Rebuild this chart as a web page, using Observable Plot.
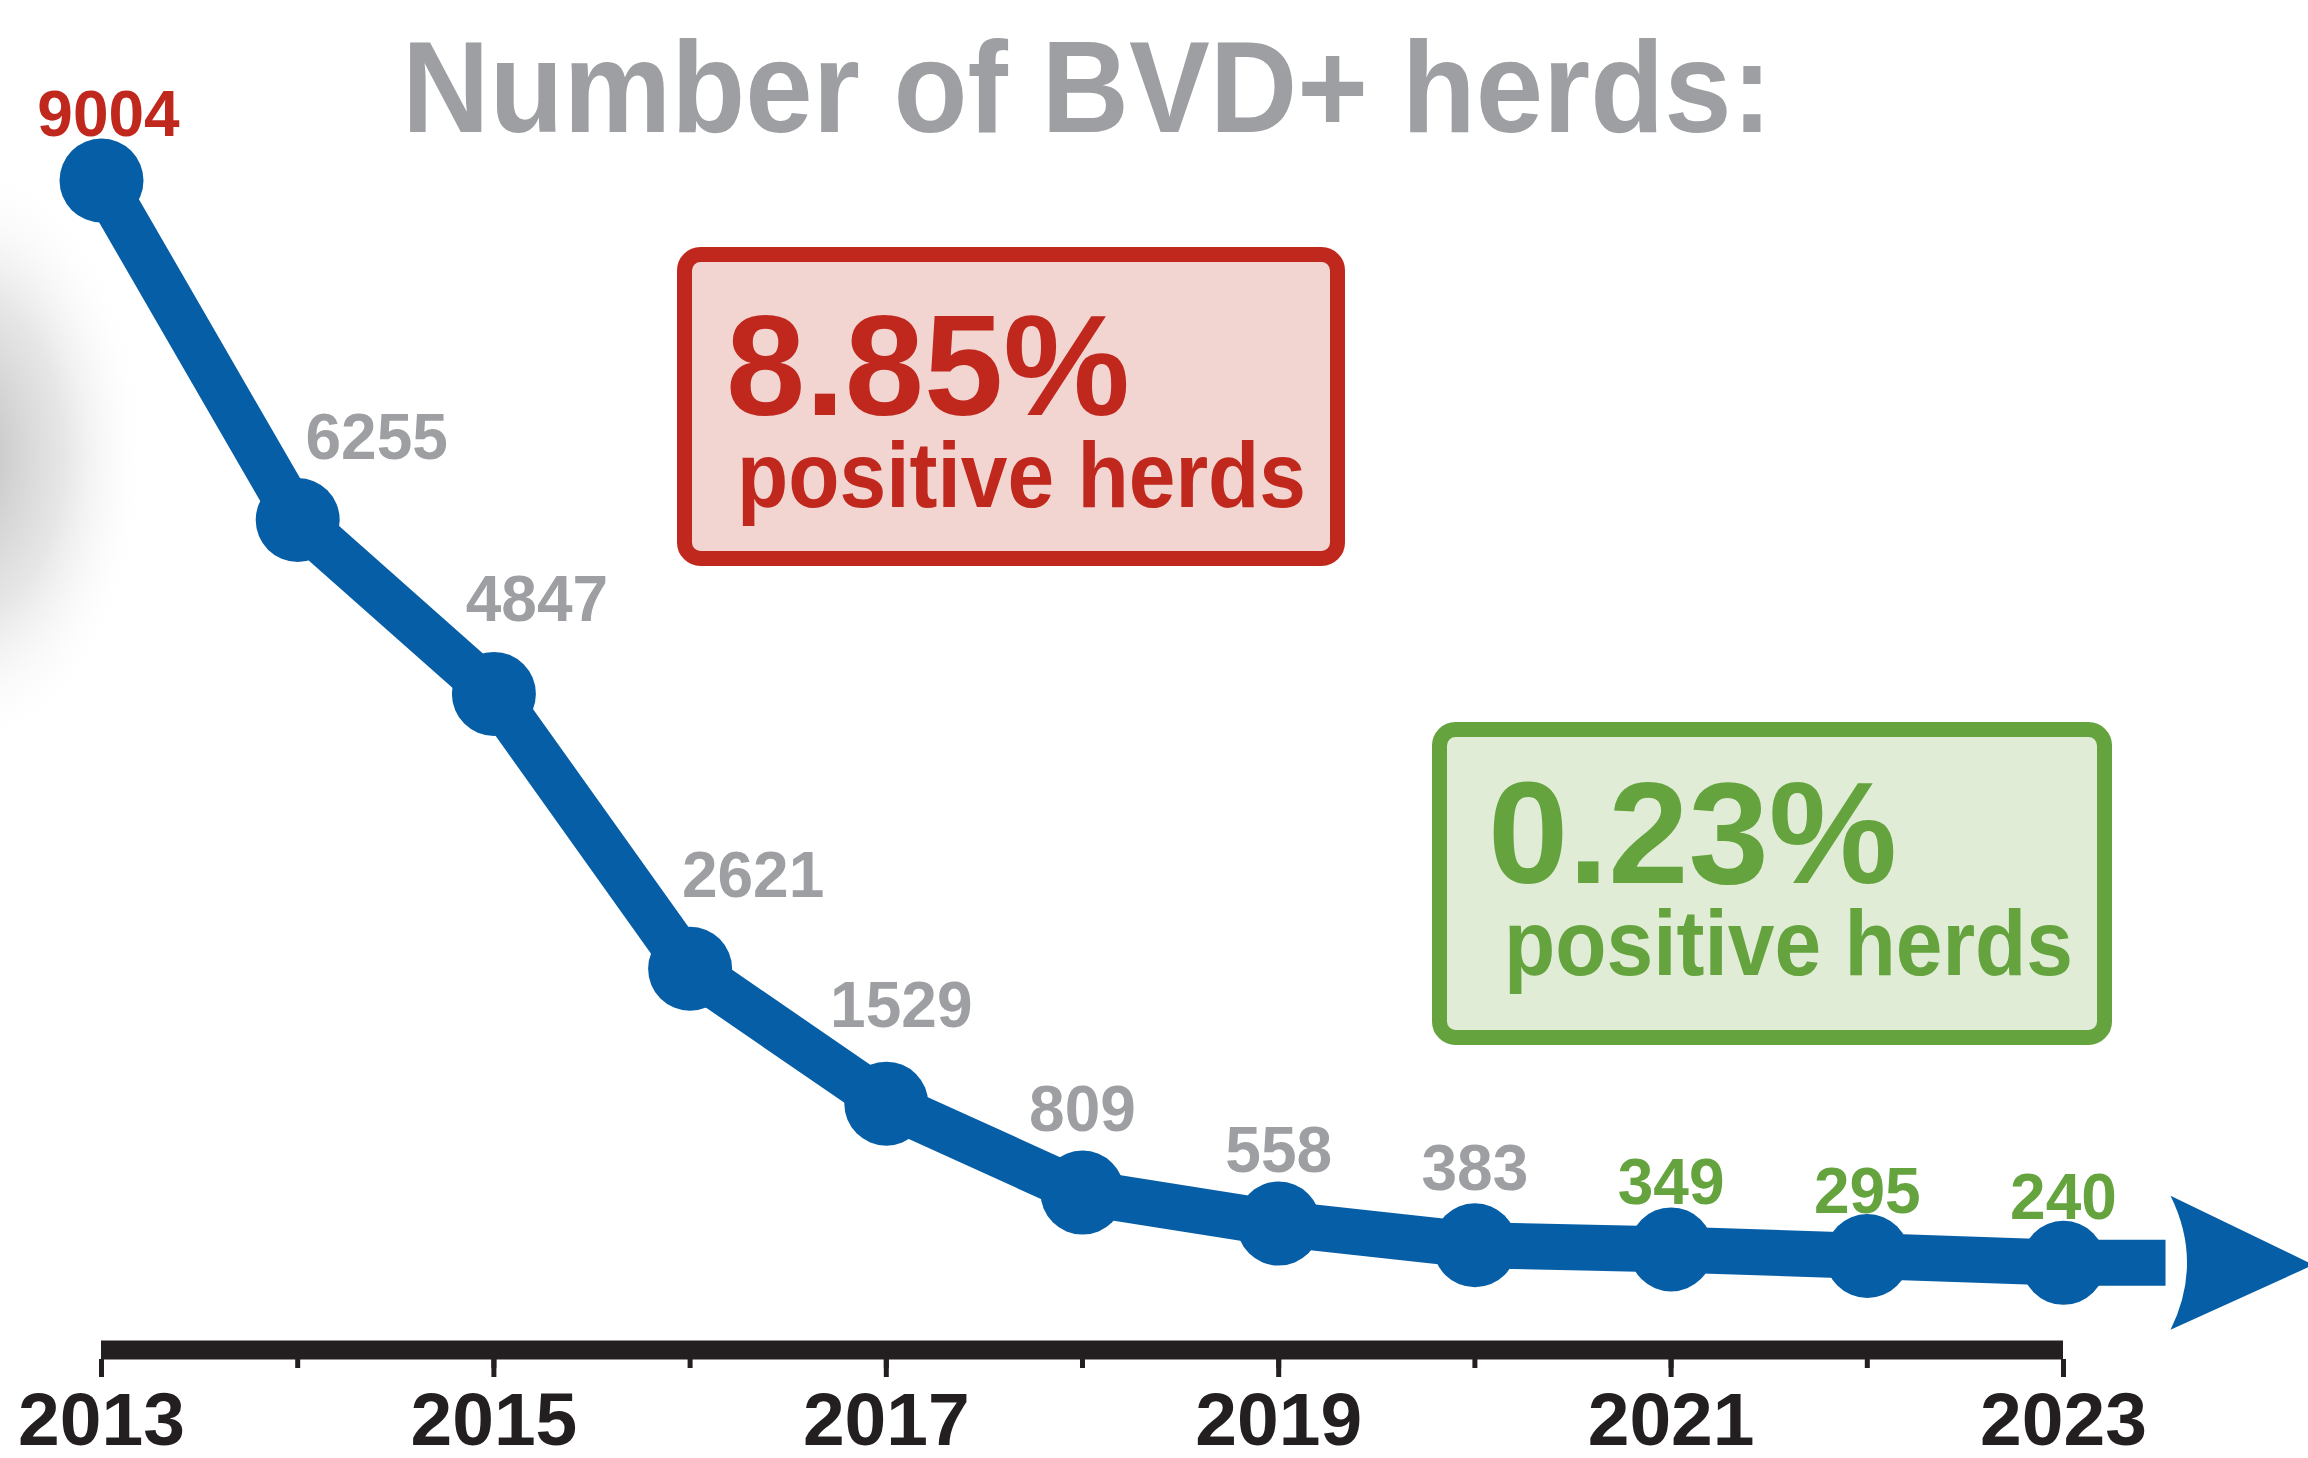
<!DOCTYPE html>
<html>
<head>
<meta charset="utf-8">
<script src="https://cdn.jsdelivr.net/npm/d3@7"></script>
<script src="https://cdn.jsdelivr.net/npm/@observablehq/plot@0.6"></script>
<style>
  html, body { margin: 0; padding: 0; background: #ffffff; }
  #chart svg { display: block; }
</style>
</head>
<body>
<div id="chart"></div>
<script>
// ---- data ----
const years = [2013, 2014, 2015, 2016, 2017, 2018, 2019, 2020, 2021, 2022, 2023];
const herds = [9004, 6255, 4847, 2621, 1529, 809, 558, 383, 349, 295, 240];
const tickYears = [2013, 2014, 2015, 2016, 2017, 2018, 2019, 2020, 2021, 2022, 2023];
const labeledYears = [2013, 2015, 2017, 2019, 2021, 2023];
const titleText = "Number of BVD+ herds:";
const startShare = "8.85%";
const endShare = "0.23%";
const shareCaption = "positive herds";

// ---- styling ----
const FONT = "'Liberation Sans', Arial, sans-serif";
const BLUE = "#065ea6";
const RED = "#c0281e";
const GREEN = "#64a33d";
const GREY = "#9d9fa2";
const INK = "#231f20";
// per-label pixel offsets [dx, dy] (layout only)
const labelOffsets = [[7, -45], [79, -61], [43, -73], [63, -72], [15, -77], [0, -62], [0, -52], [0, -55], [0, -45], [0, -43], [0, -44]];
const arrowYear = 2023.52; // where the line extension meets the arrow head

const data = years.map((year, i) => ({year, herds: herds[i]}));
const last = data[data.length - 1];
const labelColor = (y) => y === years[0] ? RED : (y >= 2021 ? GREEN : GREY);

const arrowHead = {
  draw(ctx) {
    ctx.moveTo(5, -67);
    ctx.lineTo(148, 2);
    ctx.lineTo(5, 67);
    ctx.quadraticCurveTo(38, 0, 5, -67);
    ctx.closePath();
  }
};

const labelMarks = data.map((d, i) => Plot.text([d], {
  x: "year", y: "herds",
  text: (p) => String(p.herds),
  dx: labelOffsets[i][0], dy: labelOffsets[i][1],
  lineAnchor: "bottom", textAnchor: "middle",
  fill: labelColor(d.year),
  fontSize: 64, fontWeight: "bold"
}));

const svg = Plot.plot({
  width: 2308,
  height: 1458,
  marginTop: 0, marginLeft: 0, marginRight: 0, marginBottom: 99,
  style: {background: "#ffffff", overflow: "visible", fontFamily: FONT, color: INK},
  x: {domain: [years[0], years[years.length - 1]], range: [101, 2063], axis: null, label: null},
  y: {domain: [0, herds[0]], range: [1292, 180], axis: null},
  marks: [
    Plot.ruleY([0], {x1: () => years[0], x2: () => years[years.length - 1], dy: 57.5, stroke: INK, strokeWidth: 19}),
    Plot.axisX({ticks: tickYears, tickSize: 9, text: null, label: null, strokeWidth: 5}),
    Plot.axisX({ticks: labeledYears, tickSize: 18, tickPadding: 14, strokeWidth: 5, label: null,
      tickFormat: (d) => String(d), fontSize: 75, fontWeight: "bold"}),
    Plot.line([last, {year: arrowYear, herds: last.herds}], {x: "year", y: "herds", stroke: BLUE, strokeWidth: 46, strokeLinecap: "butt"}),
    Plot.dot([{year: arrowYear, herds: last.herds}], {x: "year", y: "herds", symbol: arrowHead, r: 10, fill: BLUE, stroke: "none"}),
    Plot.line(data, {x: "year", y: "herds", stroke: BLUE, strokeWidth: 46}),
    Plot.dot(data, {x: "year", y: "herds", r: 42, fill: BLUE, stroke: "none"}),
    ...labelMarks
  ]
});

// ---- decorative overlays (title, annotation boxes, left shadow) ----
const s = d3.select(svg);
const defs = s.insert("defs", ":first-child");
const grad = defs.append("radialGradient").attr("id", "shade");
grad.append("stop").attr("offset", "0%").attr("stop-color", "#b9b9b9").attr("stop-opacity", 1);
grad.append("stop").attr("offset", "55%").attr("stop-color", "#dcdcdc").attr("stop-opacity", 0.7);
grad.append("stop").attr("offset", "100%").attr("stop-color", "#ffffff").attr("stop-opacity", 0);
s.insert("ellipse", "defs + *")
  .attr("cx", -40).attr("cy", 455).attr("rx", 190).attr("ry", 300)
  .attr("fill", "url(#shade)");

function addText(str, x, y, size, color, len) {
  s.append("text").text(str)
    .attr("x", x).attr("y", y)
    .attr("text-anchor", "start")
    .attr("font-family", FONT).attr("font-weight", "bold")
    .attr("font-size", size).attr("fill", color)
    .attr("textLength", len).attr("lengthAdjust", "spacingAndGlyphs");
}
function addBox(x0, y0, x1, y1, stroke, fill) {
  const sw = 15;
  s.append("rect")
    .attr("x", x0 + sw / 2).attr("y", y0 + sw / 2)
    .attr("width", x1 - x0 - sw).attr("height", y1 - y0 - sw)
    .attr("rx", 16).attr("ry", 16)
    .attr("fill", fill).attr("stroke", stroke).attr("stroke-width", sw);
}

addText(titleText, 402, 132, 130, GREY, 1370);

addBox(677, 247, 1345, 566, RED, "#f2d5d1");
addText(startShare, 726, 415, 143, RED, 404);
addText(shareCaption, 737, 507, 92, RED, 569);

addBox(1432, 722, 2112, 1045, GREEN, "#e0ecd6");
addText(endShare, 1488, 883, 145, GREEN, 409);
addText(shareCaption, 1504, 975, 92, GREEN, 569);

document.getElementById("chart").appendChild(svg);
</script>
</body>
</html>
